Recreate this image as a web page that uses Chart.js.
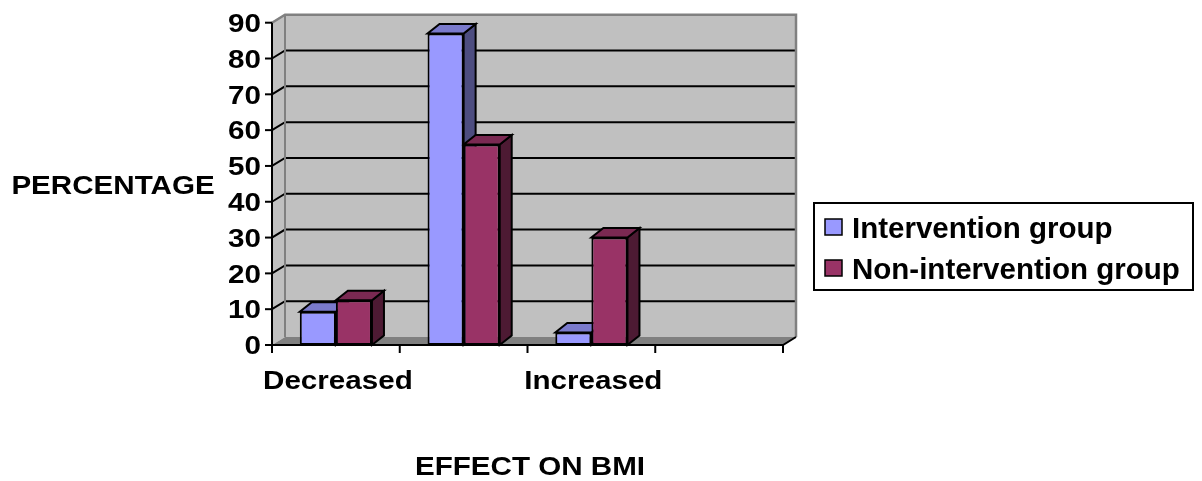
<!DOCTYPE html>
<html>
<head>
<meta charset="utf-8">
<script src="https://cdn.jsdelivr.net/npm/chart.js@4.4.0/dist/chart.umd.min.js"></script>
<style>
  html, body { margin: 0; padding: 0; background: #fff; }
  #wrap { width: 1202px; height: 481px; }
</style>
</head>
<body>
<div id="wrap"><canvas id="bmiChart"></canvas></div>
<script>
const categories = ["Decreased", "", "Increased", ""];
const interventionValues = [9.3, 87, 3.5, null];
const nonInterventionValues = [12.5, 56, 30, null];
const yTicks = [0, 10, 20, 30, 40, 50, 60, 70, 80, 90];
const seriesNames = ["Intervention group", "Non-intervention group"];
const frontColors = ["#9999FF", "#993366"];
const topColors = ["#7A7ACC", "#7A2952"];
const sideColors = ["#4D4D80", "#4D1A33"];
const yTitle = "PERCENTAGE";
const xTitle = "EFFECT ON BMI";

const FONT = 'bold 25.5px "Liberation Sans", Arial, sans-serif';
const LEGEND_FONT = 'bold 29.5px "Liberation Sans", Arial, sans-serif';
const SX = 1.16; // axis text runs a little wide
const wallDx = 13, wallDy = -8;
const barDx = 12, barDy = -9.5;

function wideText(ctx, str, x, y, align, font, sx) {
  ctx.save();
  ctx.font = font;
  ctx.textAlign = align;
  ctx.textBaseline = "alphabetic";
  ctx.fillStyle = "#000";
  ctx.translate(x, y);
  ctx.scale(sx, 1);
  ctx.fillText(str, 0, 0);
  ctx.restore();
}

function poly(ctx, pts, fill, stroke, lw) {
  ctx.beginPath();
  ctx.moveTo(pts[0][0], pts[0][1]);
  for (let i = 1; i < pts.length; i++) ctx.lineTo(pts[i][0], pts[i][1]);
  ctx.closePath();
  if (fill) { ctx.fillStyle = fill; ctx.fill(); }
  if (stroke) { ctx.strokeStyle = stroke; ctx.lineWidth = lw; ctx.stroke(); }
}

function line(ctx, pts, color, lw) {
  ctx.beginPath();
  ctx.moveTo(pts[0][0], pts[0][1]);
  for (let i = 1; i < pts.length; i++) ctx.lineTo(pts[i][0], pts[i][1]);
  ctx.strokeStyle = color;
  ctx.lineWidth = lw;
  ctx.stroke();
}

// back wall, side wall, floor and the depth faces of the bars
const wallsPlugin = {
  id: "walls",
  beforeDatasetsDraw(chart) {
    const ctx = chart.ctx;
    const a = chart.chartArea;
    const ys = chart.scales.y;
    ctx.save();
    ctx.lineJoin = "miter";
    poly(ctx, [[a.left, a.top], [a.left + wallDx, a.top + wallDy], [a.left + wallDx, a.bottom + wallDy], [a.left, a.bottom]], "#C0C0C0");
    poly(ctx, [[a.left + wallDx, a.top + wallDy], [a.right + wallDx, a.top + wallDy], [a.right + wallDx, a.bottom + wallDy], [a.left + wallDx, a.bottom + wallDy]], "#C0C0C0");
    poly(ctx, [[a.left, a.bottom], [a.right, a.bottom], [a.right + wallDx, a.bottom + wallDy], [a.left + wallDx, a.bottom + wallDy]], "#808080");

    yTicks.forEach(v => {
      if (v <= 0 || v >= ys.max) return;
      const y = ys.getPixelForValue(v);
      line(ctx, [[a.left, y], [a.left + wallDx, y + wallDy], [a.right + wallDx, y + wallDy]], "#000", 2);
    });

    line(ctx, [[a.left, a.top], [a.left + wallDx, a.top + wallDy], [a.right + wallDx, a.top + wallDy], [a.right + wallDx, a.bottom + wallDy]], "#808080", 2.5);
    line(ctx, [[a.left + wallDx, a.top + wallDy], [a.left + wallDx, a.bottom + wallDy]], "#808080", 2);

    // top and side faces, left to right so nearer bars cover the ones behind
    for (let i = 0; i < categories.length; i++) {
      chart.data.datasets.forEach((ds, d) => {
        if (ds.data[i] == null) return;
        const el = chart.getDatasetMeta(d).data[i];
        const x0 = el.x - el.width / 2, x1 = el.x + el.width / 2;
        const yt = el.y, yb = el.base;
        poly(ctx, [[x1, yt], [x1 + barDx, yt + barDy], [x1 + barDx, yb + barDy], [x1, yb]], sideColors[d], "#000", 2);
        poly(ctx, [[x0, yt], [x1, yt], [x1 + barDx, yt + barDy], [x0 + barDx, yt + barDy]], topColors[d], "#000", 2);
      });
    }
    ctx.restore();
  },
  afterDatasetsDraw(chart) {
    const ctx = chart.ctx;
    const a = chart.chartArea;
    const ys = chart.scales.y;
    const xs = chart.scales.x;
    ctx.save();

    // axis lines and tick marks
    line(ctx, [[a.left, a.top], [a.left, a.bottom]], "#000", 2);
    line(ctx, [[a.left, a.bottom], [a.right, a.bottom], [a.right + wallDx, a.bottom + wallDy]], "#000", 2);
    yTicks.forEach(v => {
      const y = ys.getPixelForValue(v);
      line(ctx, [[a.left - 7, y], [a.left, y]], "#000", 2);
      wideText(ctx, String(v), a.left - 11, y + 9.2, "right", FONT, SX);
    });
    for (let k = 0; k <= categories.length; k++) {
      const x = xs.getPixelForValue(k - 0.5);
      line(ctx, [[x, a.bottom], [x, a.bottom + 8]], "#000", 2);
    }
    categories.forEach((c, i) => {
      if (!c) return;
      wideText(ctx, c, xs.getPixelForValue(i) + 2, 388.5, "center", FONT, SX);
    });

    // titles
    wideText(ctx, yTitle, 113, 194, "center", FONT, SX);
    wideText(ctx, xTitle, 530, 475, "center", FONT, SX);

    // legend
    ctx.lineWidth = 2;
    ctx.strokeStyle = "#000";
    ctx.strokeRect(814, 203, 379, 87);
    const rows = [227, 268];
    seriesNames.forEach((name, d) => {
      ctx.fillStyle = frontColors[d];
      ctx.fillRect(825, rows[d] - 8, 17, 16);
      ctx.lineWidth = 1.5;
      ctx.strokeRect(825, rows[d] - 8, 17, 16);
      wideText(ctx, name, 852, rows[d] + 10.5, "left", LEGEND_FONT, 1);
    });
    ctx.restore();
  }
};

new Chart(document.getElementById("bmiChart"), {
  type: "bar",
  data: {
    labels: categories,
    datasets: [
      {
        label: seriesNames[0],
        data: interventionValues,
        backgroundColor: frontColors[0],
        borderColor: "#000",
        borderWidth: 2,
        borderSkipped: false,
        categoryPercentage: 0.565,
        barPercentage: 1.0
      },
      {
        label: seriesNames[1],
        data: nonInterventionValues,
        backgroundColor: frontColors[1],
        borderColor: "#000",
        borderWidth: 2,
        borderSkipped: false,
        categoryPercentage: 0.565,
        barPercentage: 1.0
      }
    ]
  },
  options: {
    responsive: true,
    maintainAspectRatio: false,
    animation: false,
    layout: { padding: { left: 272, right: 419, top: 22.7, bottom: 136 } },
    plugins: {
      legend: { display: false },
      title: { display: false },
      tooltip: { enabled: false }
    },
    scales: {
      x: { display: false, offset: true },
      y: { display: false, min: 0, max: 90, ticks: { stepSize: 10 } }
    }
  },
  plugins: [wallsPlugin]
});
</script>
</body>
</html>
